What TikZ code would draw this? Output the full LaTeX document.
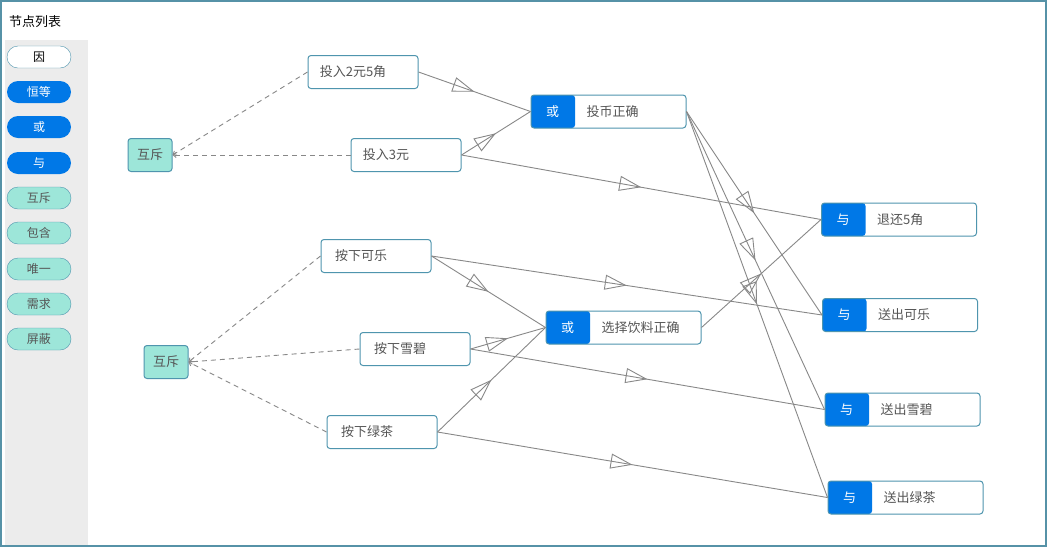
\documentclass[tikz,border=0pt]{standalone}
\usepackage{fontspec}
\setmainfont{Noto Sans CJK SC}
\usetikzlibrary{arrows.meta,decorations.markings}
\definecolor{bl}{HTML}{0078E7}
\definecolor{bd}{HTML}{4F95AE}
\definecolor{tq}{HTML}{9DE6D9}
\definecolor{tx}{HTML}{555555}
\definecolor{ln}{HTML}{888888}
\begin{document}
\begin{tikzpicture}[x=1pt,y=-1pt,
  every node/.style={font=\fontsize{13}{15}\selectfont,inner sep=0pt},
  box/.style={draw=bd,line width=1pt,rounded corners=3pt,fill=white,minimum width=110pt,minimum height=33pt,text=tx},
  gate/.style={draw=bd,line width=1pt,rounded corners=3pt,fill=white,minimum width=155pt,minimum height=33pt,
    path picture={\fill[bl] (path picture bounding box.south west) rectangle ([xshift=44pt]path picture bounding box.north west);}},
  mx/.style={draw=bd,line width=1pt,fill=tq,rounded corners=3pt,minimum width=44pt,minimum height=33pt,text=tx},
  pill/.style={rounded corners=11pt,minimum width=64pt,minimum height=22pt,font=\fontsize{12}{14}\selectfont},
  pb/.style={pill,fill=bl,text=white},
  pt/.style={pill,draw=bd,fill=tq,text=tx},
  edge/.style={draw=ln,line width=0.9pt,postaction={decorate},decoration={markings,mark=at position 0.5 with {\arrow{Triangle[open,length=22pt,width=15pt,line width=0.9pt]}}}},
  dsh/.style={draw=ln,line width=0.9pt,dash pattern=on 5pt off 4pt,-{Straight Barb[length=3pt,width=5pt]}}
]
\useasboundingbox (0,0) rectangle (1047,547);
\fill[white] (0,0) rectangle (1047,547);
\fill[gray!15] (5,40) rectangle (88,545);
\draw[draw=bd!85!gray,line width=1.5pt] (1,1) rectangle (1046,546);
\node[anchor=west,text=black] (title) at (9,22) {节点列表};
\node[pill,draw=bd,fill=white,text=black] (p1) at (39,57) {因};
\node[pb] (p2) at (39,92) {恒等};
\node[pb] (p3) at (39,127) {或};
\node[pb] (p4) at (39,163) {与};
\node[pt] (p5) at (39,198) {互斥};
\node[pt] (p6) at (39,233) {包含};
\node[pt] (p7) at (39,269) {唯一};
\node[pt] (p8) at (39,304) {需求};
\node[pt] (p9) at (39,339) {屏蔽};

\node[mx] (m1) at (150,155) {互斥};
\node[mx] (m2) at (166,362) {互斥};

\node[box] (a1) at (363,72) {\hspace*{-20pt}投入2元5角};
\node[box] (a2) at (406,155) {\hspace*{-40pt}投入3元};
\node[box] (c1) at (376,256) {\hspace*{-30pt}按下可乐};
\node[box] (c2) at (415,349) {\hspace*{-30pt}按下雪碧};
\node[box] (c3) at (382,432) {\hspace*{-30pt}按下绿茶};

\node[gate] (g1) at (608.5,111.5) {};
\node[gate] (g2) at (623.5,327.5) {};
\node[gate] (e1) at (899,219.5) {};
\node[gate] (e2) at (900,315) {};
\node[gate] (e3) at (902.5,409.5) {};
\node[gate] (e4) at (905.5,497.5) {};

\foreach \g/\s/\t in {g1/或/投币正确,g2/或/选择饮料正确,e1/与/退还5角,e2/与/送出可乐,e3/与/送出雪碧,e4/与/送出绿茶}{
  \node[text=white] (\g s) at ([xshift=22pt]\g.west) {\s};
  \node[text=tx,anchor=west] (\g t) at ([xshift=56pt]\g.west) {\t};
}

\draw[dsh] (a1.west) -- (m1.east);
\draw[dsh] (a2.west) -- (m1.east);
\draw[dsh] (c1.west) -- (m2.east);
\draw[dsh] (c2.west) -- (m2.east);
\draw[dsh] (c3.west) -- (m2.east);

\draw[edge] (a1.east) -- (g1.west);
\draw[edge] (a2.east) -- (g1.west);
\draw[edge] (a2.east) -- (e1.west);
\draw[edge] (g1.east) -- (e2.west);
\draw[edge] (g1.east) -- (e3.west);
\draw[edge] (g1.east) -- (e4.west);
\draw[edge] (c1.east) -- (g2.west);
\draw[edge] (c2.east) -- (g2.west);
\draw[edge] (c3.east) -- (g2.west);
\draw[edge] (c1.east) -- (e2.west);
\draw[edge] (c2.east) -- (e3.west);
\draw[edge] (c3.east) -- (e4.west);
\draw[edge] (g2.east) -- (e1.west);
\end{tikzpicture}
\end{document}
